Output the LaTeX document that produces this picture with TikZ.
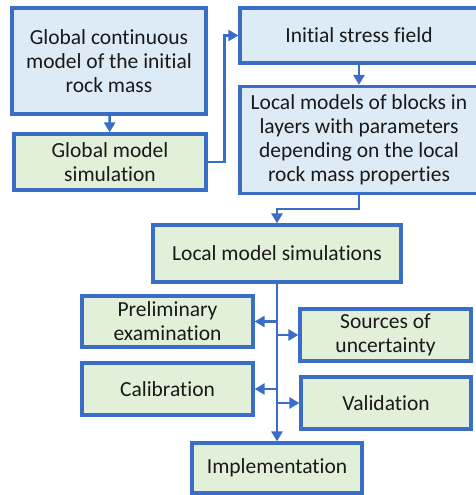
\documentclass[tikz,border=0pt]{standalone}
\usepackage{fontspec}
\setmainfont{Carlito}[Ligatures=NoCommon]
\usepackage{tikz}
\usetikzlibrary{arrows.meta}
\definecolor{boxline}{RGB}{58,110,198}
\definecolor{bluefill}{RGB}{221,235,247}
\definecolor{greenfill}{RGB}{226,240,217}

\begin{document}
\begin{tikzpicture}[x=1pt, y=-1pt,
  box/.style={draw=boxline, line width=3.2pt, inner sep=0pt, align=center,
    font=\fontsize{21.5}{24}\selectfont, text=black!90},
  bluebox/.style={box, fill=bluefill},
  greenbox/.style={box, fill=greenfill},
  arr/.style={draw=boxline, line width=2.6pt, -{Triangle[length=10pt, width=11pt]}}]
  \useasboundingbox (0,0) rectangle (476,495);
  \node[bluebox, minimum width=194pt, minimum height=106pt] (global) at (109,61)
    {Global continuous\\model of the initial\\rock mass};
  \node[greenbox, minimum width=192pt, minimum height=56pt] (gsim) at (110,162)
    {Global model\\simulation};
  \node[bluebox, minimum width=238pt, minimum height=55pt] (stress) at (359,35.5)
    {Initial stress field};
  \node[bluebox, minimum width=238pt, minimum height=107pt] (local) at (359,140)
    {Local models of blocks in\\layers with parameters\\depending on the local\\rock mass properties};
  \node[greenbox, minimum width=248pt, minimum height=57pt] (lsim) at (277,253.5)
    {Local model simulations};
  \node[greenbox, minimum width=171pt, minimum height=51pt] (prelim) at (167.5,321.5)
    {Preliminary\\examination};
  \node[greenbox, minimum width=171pt, minimum height=52pt] (sources) at (385.5,335)
    {Sources of\\uncertainty};
  \node[greenbox, minimum width=171pt, minimum height=52pt] (calib) at (167.5,389)
    {Calibration};
  \node[greenbox, minimum width=170pt, minimum height=52pt] (valid) at (386,403)
    {Validation};
  \node[greenbox, minimum width=170pt, minimum height=50pt] (impl) at (277,468)
    {Implementation};
  % connectors
  \draw[arr] (global) -- (gsim);
  \draw[arr] (gsim.east) -- ++(17,0) |- (stress.west);
  \draw[arr] (stress) -- (local);
  \draw[arr] (local.south) -- ++(0,14) -| (lsim.north);
  \draw[arr] (lsim) -- (impl);
  \foreach \b in {prelim, sources, calib, valid}
    \draw[arr] (lsim.south |- \b.center) -- (\b);
\end{tikzpicture}
\end{document}
